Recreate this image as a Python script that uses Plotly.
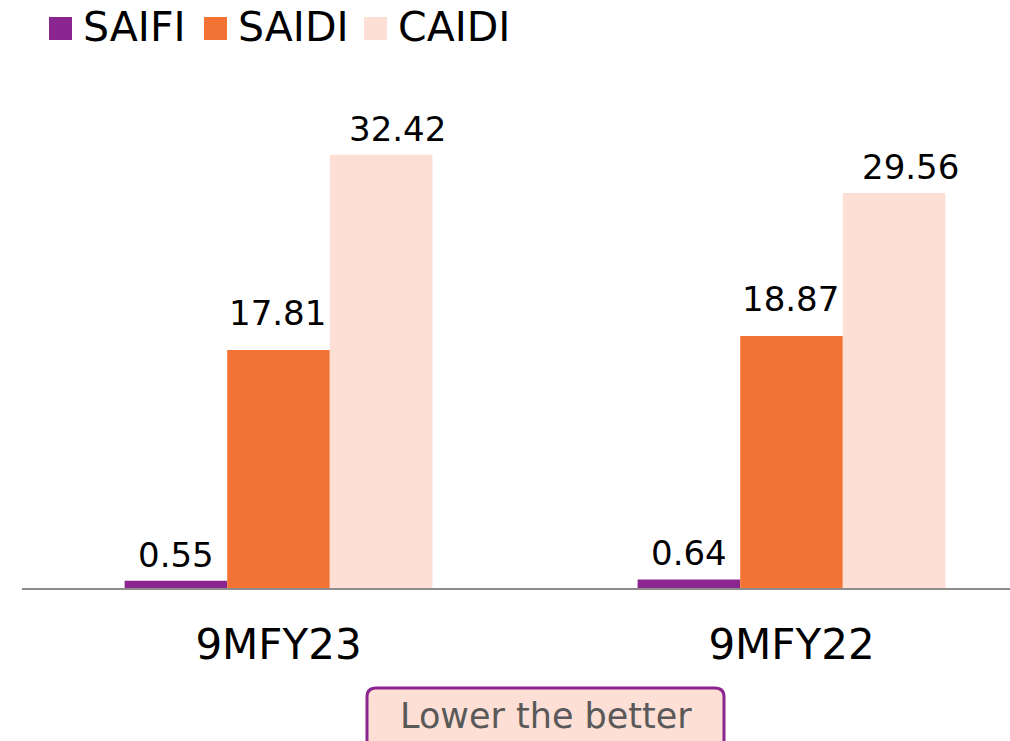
import plotly.graph_objects as go

# data
categories = ["9MFY23", "9MFY22"]
series_names = ["SAIFI", "SAIDI", "CAIDI"]
saifi = [0.55, 0.64]
saidi = [17.81, 18.87]
caidi = [32.42, 29.56]
series_values = [saifi, saidi, caidi]
series_colors = ["#8B2590", "#F37335", "#FDDFD5"]
note_text = "Lower the better"

FONT = "DejaVu Sans"

W, H = 1010, 741
L, R, T, B = 22, 0, 100, 153
pw, ph = W - L - R, H - T - B


def px_x(px):
    # pixel -> paper coord
    return (px - L) / pw


def px_y(py):
    return (H - B - py) / ph


fig = go.Figure()
for name, vals, color in zip(series_names, series_values, series_colors):
    fig.add_trace(go.Bar(
        x=categories,
        y=vals,
        name=name,
        marker=dict(color=color, line=dict(width=0)),
        showlegend=False,
    ))

# value labels above the bars (offsets per series, as in the original)
bar_w = 513 * 0.6 / 3
label_xshift = [-bar_w, -1, bar_w + 16]
label_yshift = [4, 15, 4]
for i, vals in enumerate(series_values):
    for cat, v in zip(categories, vals):
        fig.add_annotation(x=cat, y=v, text=f"{v:.2f}", showarrow=False,
                           xanchor="center", yanchor="bottom",
                           xshift=label_xshift[i], yshift=label_yshift[i],
                           font=dict(size=34, color="#000000", family=FONT))

# manual legend (bigger squares than plotly's legend allows)
legend_x = [49, 204, 364]
for name, color, x0 in zip(series_names, series_colors, legend_x):
    fig.add_shape(type="rect", xref="paper", yref="paper",
                  x0=px_x(x0), x1=px_x(x0 + 23), y0=px_y(40), y1=px_y(17),
                  fillcolor=color, line=dict(width=0))
    fig.add_annotation(text=name, xref="paper", yref="paper",
                       x=px_x(x0 + 33), y=px_y(27), xanchor="left", yanchor="middle",
                       borderpad=0, showarrow=False,
                       font=dict(size=41, color="#000000", family=FONT))

# "Lower the better" box, rounded top corners, cut off at the bottom
bx0, bx1, by0, by1, r = px_x(367), px_x(724), px_y(688), px_y(770), 9
rx, ry = r / pw, r / ph
path = (f"M {bx0},{by1} L {bx0},{by0 - ry} Q {bx0},{by0} {bx0 + rx},{by0} "
        f"L {bx1 - rx},{by0} Q {bx1},{by0} {bx1},{by0 - ry} L {bx1},{by1} Z")
fig.add_shape(type="path", path=path, xref="paper", yref="paper",
              fillcolor="#FDDFD5", line=dict(color="#8B2590", width=3))
fig.add_annotation(text=note_text, xref="paper", yref="paper",
                   x=px_x(546), y=px_y(716), xanchor="center", yanchor="middle",
                   borderpad=0, showarrow=False,
                   font=dict(size=35, color="#595959", family=FONT))

fig.update_layout(
    width=W, height=H,
    margin=dict(l=L, r=R, t=T, b=B, pad=0),
    barmode="group",
    bargap=0.40,
    bargroupgap=0,
    plot_bgcolor="white",
    paper_bgcolor="white",
    font=dict(family=FONT),
    xaxis=dict(
        type="category",
        range=[-0.5, -0.5 + pw / 513],
        showline=True, linecolor="#8C8C8C", linewidth=2,
        showgrid=False, ticks="", ticklabelstandoff=19,
        tickfont=dict(size=42, color="#000000", family=FONT),
    ),
    yaxis=dict(
        range=[0, ph / 13.36],
        visible=False, showgrid=False, zeroline=False,
    ),
)

# drop the default body margin so the figure fills the window exactly
fig.write_html("out.html", config={"displayModeBar": False},
               post_script="document.body.style.margin='0';")
